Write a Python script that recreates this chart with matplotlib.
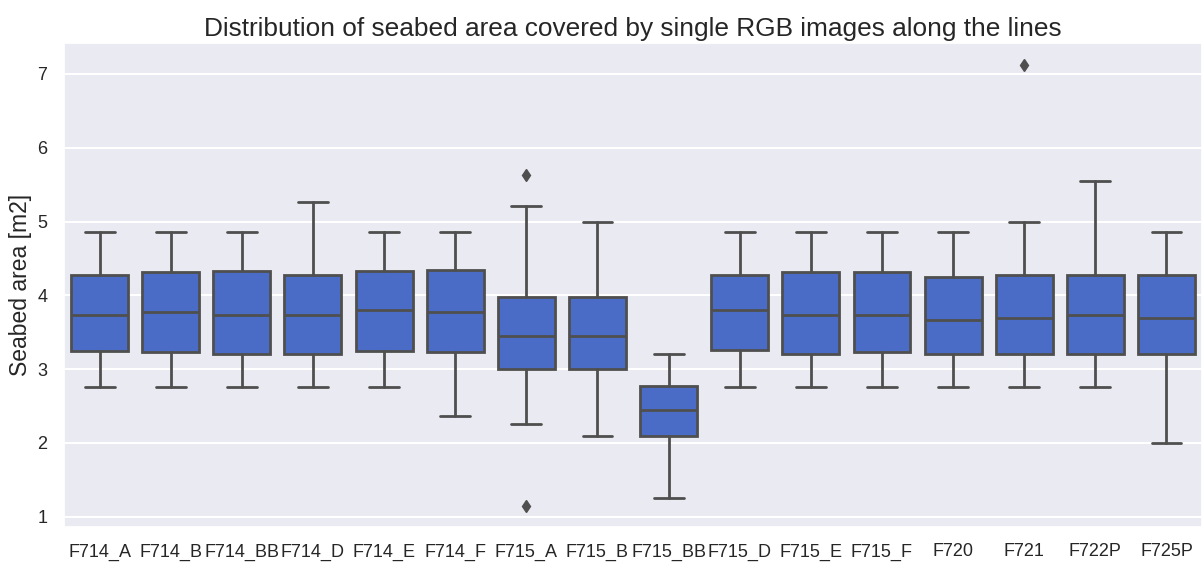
import matplotlib
matplotlib.use("Agg")
import matplotlib.pyplot as plt
import seaborn as sns

lines = ["F714_A", "F714_B", "F714_BB", "F714_D", "F714_E", "F714_F", "F715_A", "F715_B",
         "F715_BB", "F715_D", "F715_E", "F715_F", "F720", "F721", "F722P", "F725P"]

# five-number summaries per line (m2)
whisker_low = [2.76, 2.76, 2.76, 2.76, 2.76, 2.37, 2.26, 2.09,
               1.26, 2.76, 2.76, 2.76, 2.76, 2.76, 2.76, 2.00]
q1 = [3.25, 3.23, 3.21, 3.20, 3.25, 3.23, 3.00, 3.00,
      2.10, 3.26, 3.21, 3.23, 3.20, 3.20, 3.21, 3.21]
median = [3.73, 3.77, 3.73, 3.74, 3.80, 3.77, 3.45, 3.45,
          2.45, 3.80, 3.74, 3.73, 3.66, 3.69, 3.73, 3.70]
q3 = [4.27, 4.31, 4.33, 4.27, 4.33, 4.34, 3.98, 3.98,
      2.77, 4.27, 4.31, 4.31, 4.25, 4.27, 4.27, 4.27]
whisker_high = [4.86, 4.86, 4.86, 5.26, 4.86, 4.86, 5.21, 4.99,
                3.20, 4.86, 4.86, 4.86, 4.86, 4.99, 5.55, 4.86]
outliers = [[], [], [], [], [], [], [5.63, 1.145], [],
            [], [], [], [], [], [7.12], [], []]

sns.set_theme(style="darkgrid")
plt.rcParams['font.family'] = ['Liberation Sans', 'DejaVu Sans']

stats = []
for name, lo, a, m, b, hi, fl in zip(lines, whisker_low, q1, median, q3, whisker_high, outliers):
    stats.append(dict(label=name, whislo=lo, q1=a, med=m, q3=b, whishi=hi, fliers=fl))

fig = plt.figure(figsize=(12.03, 5.62), dpi=100)
ax = fig.add_axes([0.0532, 0.0628, 0.946, 0.8607])

edge = "#4f4f4f"
ax.bxp(stats, positions=range(len(lines)), widths=0.8, patch_artist=True,
       boxprops=dict(facecolor="#4A6BC6", edgecolor=edge, linewidth=2),
       medianprops=dict(color=edge, linewidth=2),
       whiskerprops=dict(color=edge, linewidth=2),
       capprops=dict(color=edge, linewidth=2),
       flierprops=dict(marker="d", markerfacecolor=edge, markeredgecolor=edge, markersize=6),
       capwidths=0.42)

ax.set_xlim(-0.5, len(lines) - 0.5)
ax.set_ylim(0.865, 7.42)
ax.set_yticks([1, 2, 3, 4, 5, 6, 7])
ax.grid(axis="x", visible=False)
ax.grid(axis="y", color="white", linewidth=1.5)
ax.tick_params(axis="both", labelsize=13, colors="#262626", pad=6)
ax.set_ylabel("Seabed area [m2]", fontsize=16.5, color="#262626")
ax.set_title("Distribution of seabed area covered by single RGB images along the lines",
             fontsize=18.9, color="#262626", pad=5)

fig.savefig("out.png", dpi=100)
